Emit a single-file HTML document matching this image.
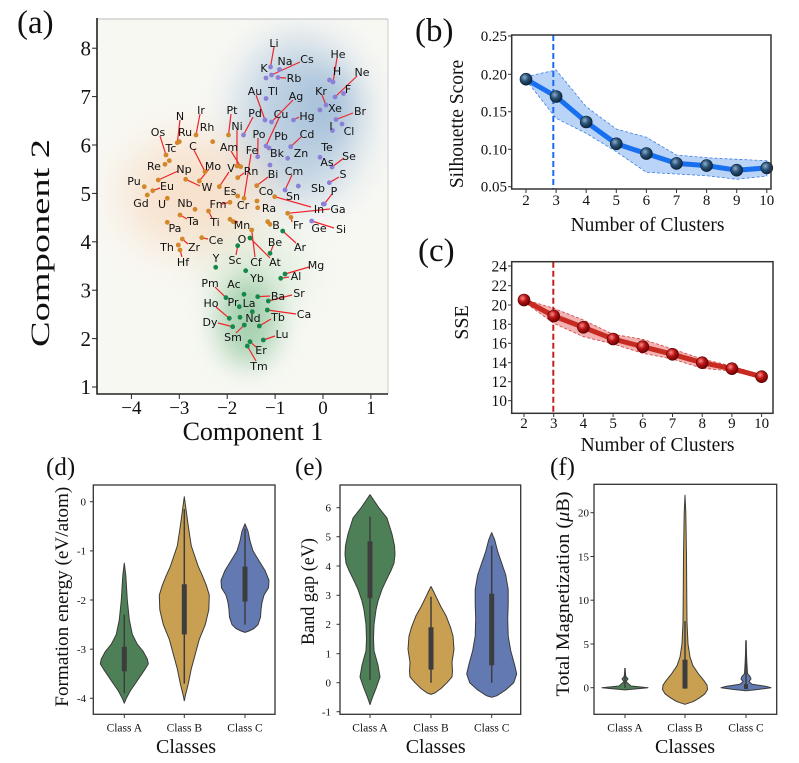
<!DOCTYPE html>
<html><head><meta charset="utf-8"><style>
html,body{margin:0;padding:0;background:#fff;}
svg{display:block}
.s{font-family:"Liberation Serif",serif;fill:#111}
.e{font-family:"DejaVu Sans",sans-serif;font-size:11px;fill:#111;text-anchor:middle}
</style></head><body>
<svg width="799" height="763" viewBox="0 0 799 763" xmlns="http://www.w3.org/2000/svg">
<defs>
<clipPath id="ca"><rect x="97" y="19" width="291" height="375"/></clipPath>
<filter id="b1" x="-100%" y="-100%" width="300%" height="300%"><feGaussianBlur stdDeviation="22"/></filter>
<filter id="b2" x="-100%" y="-100%" width="300%" height="300%"><feGaussianBlur stdDeviation="14"/></filter>
<radialGradient id="gb" cx="0.38" cy="0.35" r="0.7"><stop offset="0" stop-color="#8fb0cc"/><stop offset="0.45" stop-color="#2a5378"/><stop offset="1" stop-color="#0b2036"/></radialGradient>
<radialGradient id="gr" cx="0.38" cy="0.35" r="0.7"><stop offset="0" stop-color="#ff8a8a"/><stop offset="0.45" stop-color="#b81414"/><stop offset="1" stop-color="#650000"/></radialGradient>
</defs>
<rect width="799" height="763" fill="#fff"/>

<!-- ============ PANEL (a) ============ -->
<rect x="97" y="19" width="291" height="375" fill="#f8f8f3"/>
<g clip-path="url(#ca)">
 <ellipse cx="300" cy="120" rx="60" ry="80" fill="#86acd2" opacity="0.55" filter="url(#b1)"/>
 <ellipse cx="328" cy="105" rx="28" ry="35" fill="#7aa2ca" opacity="0.3" filter="url(#b2)"/>
 <ellipse cx="195" cy="195" rx="72" ry="58" fill="#f6c399" opacity="0.42" filter="url(#b1)"/>
 <ellipse cx="258" cy="272" rx="50" ry="35" fill="#b4dbb9" opacity="0.38" filter="url(#b1)"/>
 <ellipse cx="248" cy="322" rx="30" ry="44" fill="#5fae76" opacity="0.52" filter="url(#b2)"/>
</g>
<line x1="97" y1="19" x2="388" y2="19" stroke="#bbb" stroke-width="1"/>
<line x1="388" y1="19" x2="388" y2="394" stroke="#ccc" stroke-width="1"/>
<line x1="97" y1="18" x2="97" y2="394.5" stroke="#222" stroke-width="1.6"/>
<line x1="96.5" y1="394" x2="388" y2="394" stroke="#222" stroke-width="1.6"/>
<g stroke="#222" stroke-width="1">
 <line x1="131.4" y1="394" x2="131.4" y2="399"/><line x1="179.3" y1="394" x2="179.3" y2="399"/>
 <line x1="227.2" y1="394" x2="227.2" y2="399"/><line x1="275.1" y1="394" x2="275.1" y2="399"/>
 <line x1="323" y1="394" x2="323" y2="399"/><line x1="370.9" y1="394" x2="370.9" y2="399"/>
 <line x1="92" y1="48.2" x2="97" y2="48.2"/><line x1="92" y1="96.6" x2="97" y2="96.6"/>
 <line x1="92" y1="145" x2="97" y2="145"/><line x1="92" y1="193.4" x2="97" y2="193.4"/>
 <line x1="92" y1="241.8" x2="97" y2="241.8"/><line x1="92" y1="290.2" x2="97" y2="290.2"/>
 <line x1="92" y1="338.6" x2="97" y2="338.6"/><line x1="92" y1="387" x2="97" y2="387"/>
</g>
<g class="s" font-size="19" text-anchor="middle">
 <text x="131.4" y="414">−4</text><text x="179.3" y="414">−3</text><text x="227.2" y="414">−2</text>
 <text x="275.1" y="414">−1</text><text x="323" y="414">0</text><text x="370.9" y="414">1</text>
</g>
<g class="s" font-size="21" text-anchor="end">
 <text x="91" y="55.5">8</text><text x="91" y="104">7</text><text x="91" y="152.5">6</text>
 <text x="91" y="201">5</text><text x="91" y="249">4</text><text x="91" y="297.5">3</text>
 <text x="91" y="346">2</text><text x="91" y="394">1</text>
</g>
<text class="s" x="253" y="440" font-size="26" text-anchor="middle">Component 1</text>
<text class="s" font-size="26" text-anchor="middle" transform="translate(49,243) rotate(-90)" textLength="208" lengthAdjust="spacingAndGlyphs">Component 2</text>
<text class="s" x="17" y="33" font-size="33">(a)</text>

<!-- connector lines -->
<g stroke="#f0242a" stroke-width="1.2">
<line x1="270.5" y1="67" x2="274" y2="47"/><line x1="271.5" y1="75" x2="300" y2="62"/>
<line x1="278" y1="77.5" x2="286" y2="78"/><line x1="333" y1="82" x2="337" y2="58"/>
<line x1="335" y1="97" x2="357" y2="76"/><line x1="326" y1="105" x2="322" y2="95"/>
<line x1="336" y1="119.5" x2="353" y2="113"/><line x1="265" y1="120" x2="256" y2="95"/>
<line x1="271.5" y1="122" x2="293" y2="100"/><line x1="243.5" y1="135" x2="253" y2="117"/>
<line x1="266" y1="146" x2="279" y2="118"/><line x1="293.5" y1="120" x2="299" y2="117"/>
<line x1="228.5" y1="135" x2="231" y2="114"/><line x1="237" y1="166" x2="237" y2="130"/>
<line x1="257.7" y1="156.7" x2="258" y2="138"/><line x1="290.7" y1="146.7" x2="301" y2="137"/>
<line x1="244" y1="198.3" x2="251" y2="154"/><line x1="332" y1="167" x2="344" y2="158"/>
<line x1="329.3" y1="182.7" x2="339" y2="177"/><line x1="285" y1="190" x2="292" y2="175"/>
<line x1="324.3" y1="204" x2="332" y2="194"/><line x1="274.7" y1="196.7" x2="311" y2="207"/>
<line x1="287.7" y1="213.3" x2="330" y2="209"/><line x1="311.7" y1="221" x2="334" y2="228"/>
<line x1="196" y1="135" x2="200" y2="114"/><line x1="177.3" y1="142.7" x2="180" y2="120"/>
<line x1="166" y1="155" x2="160" y2="136"/><line x1="205" y1="171.7" x2="194" y2="150"/>
<line x1="240.7" y1="166.7" x2="231" y2="151"/><line x1="158.3" y1="180" x2="178" y2="171"/>
<line x1="199.3" y1="181" x2="209" y2="169"/><line x1="219.3" y1="186.7" x2="229" y2="172"/>
<line x1="237.7" y1="177.7" x2="244" y2="173"/><line x1="256.7" y1="185.7" x2="268" y2="177"/>
<line x1="152.7" y1="190.7" x2="160" y2="188"/><line x1="185.7" y1="179.3" x2="200" y2="186"/>
<line x1="180" y1="215" x2="187" y2="219"/><line x1="208.5" y1="211" x2="212" y2="218"/>
<line x1="230" y1="219.3" x2="238" y2="222"/><line x1="267.7" y1="221.7" x2="271" y2="224"/>
<line x1="291" y1="217.3" x2="292" y2="222"/><line x1="201.7" y1="237.7" x2="208" y2="239"/>
<line x1="182.3" y1="239" x2="188" y2="244"/><line x1="180" y1="250" x2="182" y2="257"/>
<line x1="251.7" y1="230" x2="255" y2="257"/><line x1="250" y1="238" x2="270" y2="258"/>
<line x1="230" y1="202.3" x2="222" y2="204"/>
<line x1="270" y1="253.3" x2="273" y2="246"/><line x1="282.7" y1="231" x2="296" y2="243"/>
<line x1="237.7" y1="245.7" x2="236" y2="255"/><line x1="285" y1="274" x2="309" y2="267"/>
<line x1="280.7" y1="278.3" x2="289" y2="277"/><line x1="226" y1="297.7" x2="215" y2="287"/>
<line x1="268.3" y1="301" x2="292" y2="295"/><line x1="257.7" y1="296.7" x2="270" y2="296"/>
<line x1="229.3" y1="318.3" x2="216" y2="307"/><line x1="259.3" y1="326" x2="271" y2="319"/>
<line x1="267.3" y1="310" x2="296" y2="314"/><line x1="232.7" y1="326.7" x2="218" y2="323"/>
<line x1="244.3" y1="325" x2="236" y2="333"/><line x1="263.3" y1="340" x2="275" y2="336"/>
<line x1="250" y1="341.7" x2="256" y2="347"/><line x1="247.3" y1="346" x2="256" y2="361"/>
</g>
<!-- dots -->
<g fill="#8b80d6">
<circle cx="270.5" cy="67" r="2.4"/><circle cx="266" cy="78" r="2.4"/><circle cx="279.5" cy="69.5" r="2.4"/>
<circle cx="271.5" cy="75" r="2.4"/><circle cx="278" cy="77.5" r="2.4"/><circle cx="333" cy="82" r="2.4"/>
<circle cx="329.5" cy="80" r="2.4"/><circle cx="335" cy="97" r="2.4"/><circle cx="343.5" cy="93.5" r="2.4"/>
<circle cx="326" cy="105" r="2.4"/><circle cx="320" cy="110" r="2.4"/><circle cx="336" cy="119.5" r="2.4"/>
<circle cx="332.5" cy="130.5" r="2.4"/><circle cx="342" cy="124" r="2.4"/><circle cx="265" cy="120" r="2.4"/>
<circle cx="266" cy="98.5" r="2.4"/><circle cx="271.5" cy="122" r="2.4"/><circle cx="243.5" cy="135" r="2.4"/>
<circle cx="266" cy="146" r="2.4"/><circle cx="269" cy="148" r="2.4"/><circle cx="293.5" cy="120" r="2.4"/>
<circle cx="257.7" cy="156.7" r="2.4"/><circle cx="290.7" cy="146.7" r="2.4"/><circle cx="270" cy="165" r="2.4"/>
<circle cx="287.7" cy="158.3" r="2.4"/><circle cx="320" cy="157.3" r="2.4"/><circle cx="332" cy="167" r="2.4"/>
<circle cx="329.3" cy="182.7" r="2.4"/><circle cx="285" cy="190" r="2.4"/><circle cx="298.3" cy="186" r="2.4"/>
<circle cx="324.3" cy="204" r="2.4"/><circle cx="311.7" cy="221" r="2.4"/><circle cx="323.3" cy="204" r="2.4"/>
</g>
<g fill="#d4862a">
<circle cx="228.5" cy="135" r="2.4"/><circle cx="237" cy="166" r="2.4"/><circle cx="196" cy="135" r="2.4"/>
<circle cx="177.3" cy="142.7" r="2.4"/><circle cx="212.7" cy="141.7" r="2.4"/><circle cx="179.3" cy="141.7" r="2.4"/>
<circle cx="166" cy="155" r="2.4"/><circle cx="169.3" cy="160.7" r="2.4"/><circle cx="205" cy="171.7" r="2.4"/>
<circle cx="240.7" cy="166.7" r="2.4"/><circle cx="165" cy="164.3" r="2.4"/><circle cx="158.3" cy="180" r="2.4"/>
<circle cx="199.3" cy="181" r="2.4"/><circle cx="219.3" cy="186.7" r="2.4"/><circle cx="237.7" cy="177.7" r="2.4"/>
<circle cx="256.7" cy="185.7" r="2.4"/><circle cx="144.3" cy="186.7" r="2.4"/><circle cx="152.7" cy="190.7" r="2.4"/>
<circle cx="147.3" cy="195" r="2.4"/><circle cx="185.7" cy="179.3" r="2.4"/><circle cx="237.7" cy="196" r="2.4"/>
<circle cx="257" cy="201" r="2.4"/><circle cx="274.7" cy="196.7" r="2.4"/><circle cx="167.3" cy="198.3" r="2.4"/>
<circle cx="195" cy="209.3" r="2.4"/><circle cx="230" cy="202.3" r="2.4"/><circle cx="244" cy="198.3" r="2.4"/>
<circle cx="257.7" cy="207.7" r="2.4"/><circle cx="180" cy="215" r="2.4"/><circle cx="208.5" cy="211" r="2.4"/>
<circle cx="230" cy="219.3" r="2.4"/><circle cx="233.3" cy="221.7" r="2.4"/><circle cx="267.7" cy="221.7" r="2.4"/>
<circle cx="270" cy="224.3" r="2.4"/><circle cx="291" cy="217.3" r="2.4"/><circle cx="287.7" cy="213.3" r="2.4"/>
<circle cx="167.3" cy="222.3" r="2.4"/><circle cx="201.7" cy="237.7" r="2.4"/><circle cx="178.3" cy="245" r="2.4"/>
<circle cx="182.3" cy="239" r="2.4"/><circle cx="180" cy="250" r="2.4"/><circle cx="251.7" cy="230" r="2.4"/>
</g>
<g fill="#16874a">
<circle cx="250" cy="238" r="2.4"/><circle cx="270" cy="253.3" r="2.4"/><circle cx="282.7" cy="231" r="2.4"/>
<circle cx="215.7" cy="267.3" r="2.4"/><circle cx="237.7" cy="245.7" r="2.4"/><circle cx="285" cy="274" r="2.4"/>
<circle cx="280.7" cy="278.3" r="2.4"/><circle cx="245.7" cy="270.7" r="2.4"/><circle cx="226" cy="297.7" r="2.4"/>
<circle cx="244" cy="294.3" r="2.4"/><circle cx="268.3" cy="301" r="2.4"/><circle cx="257.7" cy="296.7" r="2.4"/>
<circle cx="239.3" cy="306.7" r="2.4"/><circle cx="252.3" cy="311.7" r="2.4"/><circle cx="229.3" cy="318.3" r="2.4"/>
<circle cx="240" cy="317.3" r="2.4"/><circle cx="259.3" cy="326" r="2.4"/><circle cx="267.3" cy="310" r="2.4"/>
<circle cx="232.7" cy="326.7" r="2.4"/><circle cx="244.3" cy="325" r="2.4"/><circle cx="263.3" cy="340" r="2.4"/>
<circle cx="250" cy="341.7" r="2.4"/><circle cx="247.3" cy="346" r="2.4"/>
</g>
<!-- element labels -->
<g class="e">
<text x="274" y="47">Li</text><text x="264" y="72">K</text><text x="285" y="65">Na</text><text x="307" y="63">Cs</text>
<text x="294" y="82">Rb</text><text x="338" y="58">He</text><text x="337" y="75">H</text><text x="362" y="76">Ne</text>
<text x="348" y="93">F</text><text x="321" y="95">Kr</text><text x="335" y="112">Xe</text><text x="360" y="115">Br</text>
<text x="331" y="130">I</text><text x="349" y="135">Cl</text><text x="255" y="95">Au</text><text x="273" y="95">Tl</text>
<text x="296" y="100">Ag</text><text x="255" y="117">Pd</text><text x="281" y="118">Cu</text><text x="307" y="120">Hg</text>
<text x="232" y="114">Pt</text><text x="237" y="130">Ni</text><text x="201" y="114">Ir</text><text x="180" y="120">N</text>
<text x="207" y="131">Rh</text><text x="185" y="136">Ru</text><text x="158" y="136">Os</text><text x="171" y="152">Tc</text>
<text x="193" y="150">C</text><text x="229" y="151">Am</text><text x="259" y="138">Po</text><text x="281" y="140">Pb</text>
<text x="307" y="138">Cd</text><text x="252" y="154">Fe</text><text x="277" y="157">Bk</text><text x="301" y="157">Zn</text>
<text x="327" y="151">Te</text><text x="349" y="160">Se</text><text x="327" y="166">As</text><text x="343" y="178">S</text>
<text x="154" y="170">Re</text><text x="184" y="173">Np</text><text x="213" y="170">Mo</text><text x="231" y="172">V</text>
<text x="251" y="175">Rn</text><text x="273" y="178">Bi</text><text x="294" y="175">Cm</text><text x="134" y="185">Pu</text>
<text x="167" y="190">Eu</text><text x="207" y="191">W</text><text x="230" y="195">Es</text><text x="266" y="195">Co</text>
<text x="318" y="192">Sb</text><text x="334" y="195">P</text><text x="293" y="200">Sn</text><text x="141" y="207">Gd</text>
<text x="162" y="208">U</text><text x="185" y="207">Nb</text><text x="218" y="208">Fm</text><text x="243" y="209">Cr</text>
<text x="269" y="212">Ra</text><text x="319" y="213">In</text><text x="338" y="213">Ga</text><text x="193" y="225">Ta</text>
<text x="215" y="226">Ti</text><text x="242" y="229">Mn</text><text x="276" y="229">B</text><text x="298" y="229">Fr</text>
<text x="319" y="232">Ge</text><text x="341" y="233">Si</text><text x="175" y="232">Pa</text><text x="216" y="244">Ce</text>
<text x="242" y="243">O</text><text x="275" y="246">Be</text><text x="300" y="251">Ar</text><text x="167" y="251">Th</text>
<text x="194" y="251">Zr</text><text x="183" y="266">Hf</text><text x="216" y="262">Y</text><text x="235" y="264">Sc</text>
<text x="256" y="266">Cf</text><text x="275" y="266">At</text><text x="316" y="269">Mg</text><text x="296" y="280">Al</text>
<text x="257" y="282">Yb</text><text x="210" y="287">Pm</text><text x="234" y="288">Ac</text><text x="299" y="297">Sr</text>
<text x="278" y="300">Ba</text><text x="233" y="306">Pr</text><text x="249" y="307">La</text><text x="211" y="307">Ho</text>
<text x="253" y="322">Nd</text><text x="278" y="321">Tb</text><text x="304" y="318">Ca</text><text x="210" y="326">Dy</text>
<text x="233" y="341">Sm</text><text x="282" y="338">Lu</text><text x="261" y="354">Er</text><text x="259" y="370">Tm</text>
</g>

<!-- ============ PANEL (b) ============ -->
<text class="s" x="415" y="41" font-size="33">(b)</text>
<polygon points="526,76.7 556.1,70 586.2,106.7 616.3,129 646.4,137.3 676.5,155 706.6,157.7 736.7,159.3 766.8,160.7 766.8,176 736.7,179.3 706.6,175.7 676.5,174 646.4,172.3 616.3,151.7 586.2,133.3 556.1,118.3 526,80" fill="#a9c9f5" fill-opacity="0.8" stroke="#3c7de8" stroke-width="0.8" stroke-dasharray="3,2"/>
<line x1="553.3" y1="35" x2="553.3" y2="189" stroke="#1a6cf0" stroke-width="2" stroke-dasharray="6,3"/>
<polyline points="526,79.2 556.1,96.5 586.2,122 616.3,143.8 646.4,153.6 676.5,163.4 706.6,165.6 736.7,170.2 766.8,167.9" fill="none" stroke="#1970ee" stroke-width="5" stroke-linejoin="round"/>
<g fill="url(#gb)" stroke="#0b1e33" stroke-width="0.6">
<circle cx="526" cy="79.2" r="6"/><circle cx="556.1" cy="96.5" r="6"/><circle cx="586.2" cy="122" r="6"/>
<circle cx="616.3" cy="143.8" r="6"/><circle cx="646.4" cy="153.6" r="6"/><circle cx="676.5" cy="163.4" r="6"/>
<circle cx="706.6" cy="165.6" r="6"/><circle cx="736.7" cy="170.2" r="6"/><circle cx="766.8" cy="167.9" r="6"/>
</g>
<rect x="511.7" y="35" width="259.3" height="154" fill="none" stroke="#333" stroke-width="1.5"/>
<g stroke="#333" stroke-width="1">
<line x1="526" y1="189" x2="526" y2="193"/><line x1="556.1" y1="189" x2="556.1" y2="193"/><line x1="586.2" y1="189" x2="586.2" y2="193"/>
<line x1="616.3" y1="189" x2="616.3" y2="193"/><line x1="646.4" y1="189" x2="646.4" y2="193"/><line x1="676.5" y1="189" x2="676.5" y2="193"/>
<line x1="706.6" y1="189" x2="706.6" y2="193"/><line x1="736.7" y1="189" x2="736.7" y2="193"/><line x1="766.8" y1="189" x2="766.8" y2="193"/>
<line x1="508" y1="36" x2="511.7" y2="36"/><line x1="508" y1="74.3" x2="511.7" y2="74.3"/><line x1="508" y1="111.7" x2="511.7" y2="111.7"/>
<line x1="508" y1="149.3" x2="511.7" y2="149.3"/><line x1="508" y1="186.7" x2="511.7" y2="186.7"/>
</g>
<g class="s" font-size="15" text-anchor="end">
<text x="507" y="41">0.25</text><text x="507" y="79.3">0.20</text><text x="507" y="116.7">0.15</text>
<text x="507" y="154.3">0.10</text><text x="507" y="191.7">0.05</text>
</g>
<g class="s" font-size="15" text-anchor="middle">
<text x="526" y="205">2</text><text x="556.1" y="205">3</text><text x="586.2" y="205">4</text><text x="616.3" y="205">5</text>
<text x="646.4" y="205">6</text><text x="676.5" y="205">7</text><text x="706.6" y="205">8</text><text x="736.7" y="205">9</text><text x="766.8" y="205">10</text>
</g>
<text class="s" x="647.5" y="231" font-size="19.5" text-anchor="middle">Number of Clusters</text>
<text class="s" font-size="19.5" text-anchor="middle" transform="translate(463,124) rotate(-90)">Silhouette Score</text>

<!-- ============ PANEL (c) ============ -->
<text class="s" x="418" y="261" font-size="33">(c)</text>
<polygon points="524,299.3 553.7,308.3 583.4,320 613.1,334.3 642.8,339.3 672.5,349 702.2,359 731.9,366 761.6,375 761.6,378.3 731.9,371 702.2,368.3 672.5,359 642.8,353.3 613.1,344 583.4,336.7 553.7,323.3 524,301.7" fill="#f0a4a4" fill-opacity="0.85" stroke="#d04040" stroke-width="0.8" stroke-dasharray="3,2"/>
<line x1="553.3" y1="261.7" x2="553.3" y2="413.3" stroke="#c41e1e" stroke-width="2" stroke-dasharray="6,3"/>
<polyline points="524,300 553.7,316 583.4,327.3 613.1,339 642.8,346.7 672.5,354.3 702.2,362.7 731.9,368.7 761.6,376.7" fill="none" stroke="#c62a20" stroke-width="5" stroke-linejoin="round"/>
<g fill="url(#gr)" stroke="#550000" stroke-width="0.6">
<circle cx="524" cy="300" r="6"/><circle cx="553.7" cy="316" r="6"/><circle cx="583.4" cy="327.3" r="6"/>
<circle cx="613.1" cy="339" r="6"/><circle cx="642.8" cy="346.7" r="6"/><circle cx="672.5" cy="354.3" r="6"/>
<circle cx="702.2" cy="362.7" r="6"/><circle cx="731.9" cy="368.7" r="6"/><circle cx="761.6" cy="376.7" r="6"/>
</g>
<rect x="511.7" y="261.7" width="261.3" height="151.6" fill="none" stroke="#333" stroke-width="1.5"/>
<g stroke="#333" stroke-width="1">
<line x1="524" y1="413.3" x2="524" y2="417"/><line x1="553.7" y1="413.3" x2="553.7" y2="417"/><line x1="583.4" y1="413.3" x2="583.4" y2="417"/>
<line x1="613.1" y1="413.3" x2="613.1" y2="417"/><line x1="642.8" y1="413.3" x2="642.8" y2="417"/><line x1="672.5" y1="413.3" x2="672.5" y2="417"/>
<line x1="702.2" y1="413.3" x2="702.2" y2="417"/><line x1="731.9" y1="413.3" x2="731.9" y2="417"/><line x1="761.6" y1="413.3" x2="761.6" y2="417"/>
<line x1="508" y1="266" x2="511.7" y2="266"/><line x1="508" y1="285.7" x2="511.7" y2="285.7"/><line x1="508" y1="305" x2="511.7" y2="305"/>
<line x1="508" y1="324.3" x2="511.7" y2="324.3"/><line x1="508" y1="343.3" x2="511.7" y2="343.3"/><line x1="508" y1="362.7" x2="511.7" y2="362.7"/>
<line x1="508" y1="381.7" x2="511.7" y2="381.7"/><line x1="508" y1="400.7" x2="511.7" y2="400.7"/>
</g>
<g class="s" font-size="15.5" text-anchor="end">
<text x="507" y="271.5">24</text><text x="507" y="291">22</text><text x="507" y="310.5">20</text><text x="507" y="329.5">18</text>
<text x="507" y="348.5">16</text><text x="507" y="368">14</text><text x="507" y="387">12</text><text x="507" y="406">10</text>
</g>
<g class="s" font-size="15" text-anchor="middle">
<text x="524" y="428">2</text><text x="553.7" y="428">3</text><text x="583.4" y="428">4</text><text x="613.1" y="428">5</text>
<text x="642.8" y="428">6</text><text x="672.5" y="428">7</text><text x="702.2" y="428">8</text><text x="731.9" y="428">9</text><text x="761.6" y="428">10</text>
</g>
<text class="s" x="657.5" y="451" font-size="19.5" text-anchor="middle">Number of Clusters</text>
<text class="s" font-size="20" text-anchor="middle" transform="translate(468,322.5) rotate(-90)">SSE</text>

<!-- ============ PANEL (d) ============ -->
<text class="s" x="46" y="475" font-size="25">(d)</text>
<g stroke="#3a3a3a" stroke-width="1" stroke-linejoin="round">
<polygon fill="#4e8058" points="124.3,563.1 125.8,575.4 127.3,600 129.3,619.7 132.3,634.4 137.3,644.2 143.3,651.6 147.3,659 148.3,663.9 145.3,668.8 140.3,676.2 135.3,683.6 130.3,690.9 126.3,698.3 124.3,703.2 122.3,698.3 118.3,690.9 113.3,683.6 108.3,676.2 103.3,668.8 100.3,663.9 101.3,659 105.3,651.6 111.3,644.2 116.3,634.4 119.3,619.7 121.3,600 122.8,575.4"/>
<polygon fill="#c9a052" points="184.3,496.8 186.3,511.5 188.3,526.3 191.3,545.9 196.3,560.7 198.3,566.6 202.3,575.4 206.3,585.3 209.3,595.1 208.8,609.8 205.3,624.6 199.3,639.3 195.3,654.1 191.3,668.8 188.3,683.6 185.3,695.8 184.3,700.8 183.3,695.8 180.3,683.6 177.3,668.8 173.3,654.1 169.3,639.3 163.3,624.6 159.8,609.8 159.3,595.1 162.3,585.3 166.3,575.4 170.3,566.6 172.3,560.7 177.3,545.9 180.3,526.3 182.3,511.5"/>
<polygon fill="#6279b2" points="245,523.8 248,531.2 250,541 253,550.9 259,560.7 265,570.5 269,580.3 268.5,587.7 264,595.1 262,602.5 261,609.8 260.5,617.2 258,624.6 254,628.5 249,631 245,632.4 241,631 236,628.5 232,624.6 229.5,617.2 229,609.8 228,602.5 226,595.1 221.5,587.7 221,580.3 225,570.5 231,560.7 237,550.9 240,541 242,531.2"/>
</g>
<g stroke="#3d3d3d">
<line x1="124.3" y1="614.7" x2="124.3" y2="693.4" stroke-width="1.5"/><line x1="124.3" y1="646.7" x2="124.3" y2="671.3" stroke-width="5"/>
<line x1="184.3" y1="509.1" x2="184.3" y2="683.6" stroke-width="1.5"/><line x1="184.3" y1="584.3" x2="184.3" y2="634.4" stroke-width="5"/>
<line x1="245" y1="528.7" x2="245" y2="624.6" stroke-width="1.5"/><line x1="245" y1="566.6" x2="245" y2="601.5" stroke-width="5"/>
</g>
<rect x="93.3" y="485" width="181.7" height="229.3" fill="none" stroke="#333" stroke-width="1.3"/>
<g stroke="#333" stroke-width="1">
<line x1="90" y1="501.7" x2="93.3" y2="501.7"/><line x1="90" y1="550.9" x2="93.3" y2="550.9"/><line x1="90" y1="600" x2="93.3" y2="600"/>
<line x1="90" y1="649.2" x2="93.3" y2="649.2"/><line x1="90" y1="698.3" x2="93.3" y2="698.3"/>
<line x1="124.3" y1="714.3" x2="124.3" y2="718"/><line x1="184.3" y1="714.3" x2="184.3" y2="718"/><line x1="245" y1="714.3" x2="245" y2="718"/>
</g>
<g class="s" font-size="11" text-anchor="end">
<text x="86" y="505.5">0</text><text x="86" y="554.7">-1</text><text x="86" y="603.8">-2</text><text x="86" y="653">-3</text><text x="86" y="702">-4</text>
</g>
<g class="s" font-size="11.5" text-anchor="middle">
<text x="124.3" y="731.5">Class A</text><text x="184.3" y="731.5">Class B</text><text x="245" y="731.5">Class C</text>
</g>
<text class="s" x="186" y="753" font-size="20" text-anchor="middle">Classes</text>
<text class="s" font-size="19" text-anchor="middle" transform="translate(68,596.7) rotate(-90)" textLength="220" lengthAdjust="spacingAndGlyphs">Formation energy (eV/atom)</text>

<!-- ============ PANEL (e) ============ -->
<text class="s" x="295" y="475" font-size="25">(e)</text>
<g stroke="#3a3a3a" stroke-width="1" stroke-linejoin="round">
<polygon fill="#4e8058" points="370,494.7 375,502 379,507.9 387,518.1 392,534.1 394.5,545.7 395,554.5 394,563.2 391,570.5 386,580.7 382,589.4 378,601.1 376,609.9 374,624.4 373.5,639 374,650.6 378,665.2 380,676.9 376,688.5 372.5,697.3 370,704.6 367.5,697.3 364,688.5 360,676.9 362,665.2 366,650.6 366.5,639 366,624.4 364,609.9 362,601.1 358,589.4 354,580.7 349,570.5 346,563.2 345,554.5 345.5,545.7 348,534.1 353,518.1 361,507.9 365,502"/>
<polygon fill="#c9a052" points="431,586.5 434,592.4 436,596.7 441,606.9 446,615.7 450.5,627.3 453,636.1 454,649.2 452,662.3 452.5,671 452,676.9 447,682.7 441,688.5 435,692.9 431,694.4 427,692.9 421,688.5 415,682.7 410,676.9 409.5,671 410,662.3 408,649.2 409,636.1 411.5,627.3 416,615.7 421,606.9 426,596.7 428,592.4"/>
<polygon fill="#6279b2" points="491.7,532.6 494.7,539.9 497.7,551.6 501.7,563.2 505.7,574.9 508.2,589.4 508.2,604 507.7,618.6 508.2,636.1 510.7,650.6 514.7,665.2 516.7,674 513.7,682.7 505.7,690 496.7,695.8 491.7,697.3 486.7,695.8 477.7,690 469.7,682.7 466.7,674 468.7,665.2 472.7,650.6 475.2,636.1 475.7,618.6 475.2,604 475.2,589.4 477.7,574.9 481.7,563.2 485.7,551.6 488.7,539.9"/>
</g>
<g stroke="#3d3d3d">
<line x1="370" y1="516.6" x2="370" y2="679.8" stroke-width="1.5"/><line x1="370" y1="541.4" x2="370" y2="598.2" stroke-width="5"/>
<line x1="431" y1="596.7" x2="431" y2="682.7" stroke-width="1.5"/><line x1="431" y1="627.3" x2="431" y2="669.6" stroke-width="5"/>
<line x1="491.7" y1="545.7" x2="491.7" y2="682.7" stroke-width="1.5"/><line x1="491.7" y1="593.8" x2="491.7" y2="665.2" stroke-width="5"/>
</g>
<rect x="340" y="485" width="180.7" height="229.3" fill="none" stroke="#333" stroke-width="1.3"/>
<g stroke="#333" stroke-width="1">
<line x1="336.5" y1="507.7" x2="340" y2="507.7"/><line x1="336.5" y1="536.7" x2="340" y2="536.7"/><line x1="336.5" y1="566" x2="340" y2="566"/>
<line x1="336.5" y1="595.3" x2="340" y2="595.3"/><line x1="336.5" y1="624.3" x2="340" y2="624.3"/><line x1="336.5" y1="653.7" x2="340" y2="653.7"/>
<line x1="336.5" y1="682.7" x2="340" y2="682.7"/><line x1="336.5" y1="711.7" x2="340" y2="711.7"/>
<line x1="370" y1="714.3" x2="370" y2="718"/><line x1="431" y1="714.3" x2="431" y2="718"/><line x1="491.7" y1="714.3" x2="491.7" y2="718"/>
</g>
<g class="s" font-size="11" text-anchor="end">
<text x="331" y="511.5">6</text><text x="331" y="540.5">5</text><text x="331" y="570">4</text><text x="331" y="599">3</text>
<text x="331" y="628">2</text><text x="331" y="657.5">1</text><text x="331" y="686.5">0</text><text x="331" y="715.5">-1</text>
</g>
<g class="s" font-size="11.5" text-anchor="middle">
<text x="370" y="731.5">Class A</text><text x="431" y="731.5">Class B</text><text x="491.7" y="731.5">Class C</text>
</g>
<text class="s" x="435.7" y="753" font-size="20" text-anchor="middle">Classes</text>
<text class="s" font-size="19" text-anchor="middle" transform="translate(314,591.5) rotate(-90)" textLength="107" lengthAdjust="spacingAndGlyphs">Band gap (eV)</text>

<!-- ============ PANEL (f) ============ -->
<text class="s" x="550" y="475" font-size="25">(f)</text>
<g stroke="#3a3a3a" stroke-width="1" stroke-linejoin="round">
<polygon fill="#4e8058" points="625,669.3 625.8,676.3 628,679 626,681.6 631,686 648,687.7 635,689 625,689.9 615,689 602,687.7 619,686 624,681.6 622,679 624.2,676.3"/>
<polygon fill="#c9a052" points="685,495.2 685.8,512.7 686.5,556.5 686.8,600.2 687,622.1 688,644 690,657.1 693,665.8 699,674.6 704,680.7 707,685.1 707.5,689.5 705,693.8 699,698.2 693,701.7 685,704.3 677,701.7 671,698.2 665,693.8 662.5,689.5 663,685.1 666,680.7 671,674.6 677,665.8 680,657.1 682,644 683,622.1 683.2,600.2 683.5,556.5 684.2,512.7"/>
<polygon fill="#6279b2" points="746,640.5 746.8,661.5 747.5,673.7 750,676.3 751,679 749,681.6 752,684.2 766,686.4 771,687.7 758,689.5 746,690.8 734,689.5 721,687.7 726,686.4 740,684.2 743,681.6 741,679 742,676.3 744.5,673.7 745.2,661.5"/>
</g>
<g stroke="#3d3d3d">
<line x1="625" y1="668" x2="625" y2="688" stroke-width="1.5"/>
<line x1="685" y1="621.2" x2="685" y2="688.6" stroke-width="1.5"/><line x1="685" y1="659.7" x2="685" y2="688.6" stroke-width="5"/>
<line x1="746" y1="640.5" x2="746" y2="688" stroke-width="1.5"/><line x1="746" y1="684" x2="746" y2="689" stroke-width="4"/>
</g>
<rect x="594" y="484.3" width="182.7" height="230" fill="none" stroke="#333" stroke-width="1.3"/>
<g stroke="#333" stroke-width="1">
<line x1="590.5" y1="512.7" x2="594" y2="512.7"/><line x1="590.5" y1="556.5" x2="594" y2="556.5"/><line x1="590.5" y1="600.2" x2="594" y2="600.2"/>
<line x1="590.5" y1="644" x2="594" y2="644"/><line x1="590.5" y1="687.7" x2="594" y2="687.7"/>
<line x1="625" y1="714.3" x2="625" y2="718"/><line x1="685" y1="714.3" x2="685" y2="718"/><line x1="746" y1="714.3" x2="746" y2="718"/>
</g>
<g class="s" font-size="11" text-anchor="end">
<text x="589" y="516.5">20</text><text x="589" y="560.3">15</text><text x="589" y="604">10</text><text x="589" y="647.8">5</text><text x="589" y="691.5">0</text>
</g>
<g class="s" font-size="11.5" text-anchor="middle">
<text x="625" y="731.5">Class A</text><text x="685" y="731.5">Class B</text><text x="746" y="731.5">Class C</text>
</g>
<text class="s" x="685" y="753" font-size="20" text-anchor="middle">Classes</text>
<text class="s" font-size="19" text-anchor="middle" transform="translate(569,594) rotate(-90)" textLength="205" lengthAdjust="spacingAndGlyphs">Total Magnetization (<tspan font-style="italic">μ</tspan>B)</text>
</svg>
</body></html>
